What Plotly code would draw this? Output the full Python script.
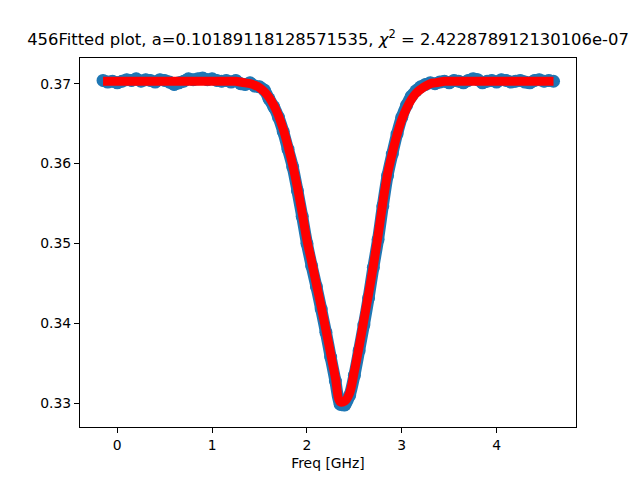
import plotly.graph_objects as go

freq_ghz = [
    -0.15, -0.10, -0.05, 0.00, 0.05, 0.10, 0.15, 0.20, 0.25, 0.30,
    0.35, 0.40, 0.45, 0.50, 0.55, 0.60, 0.65, 0.70, 0.75, 0.80,
    0.85, 0.90, 0.95, 1.00, 1.05, 1.10, 1.15, 1.20, 1.25, 1.30,
    1.35, 1.40, 1.45, 1.50, 1.55, 1.60, 1.65, 1.70, 1.75, 1.80,
    1.85, 1.90, 1.95, 2.00, 2.05, 2.10, 2.15, 2.20, 2.25, 2.30,
    2.35, 2.40, 2.45, 2.50, 2.55, 2.60, 2.65, 2.70, 2.75, 2.80,
    2.85, 2.90, 2.95, 3.00, 3.05, 3.10, 3.15, 3.20, 3.25, 3.30,
    3.35, 3.40, 3.45, 3.50, 3.55, 3.60, 3.65, 3.70, 3.75, 3.80,
    3.85, 3.90, 3.95, 4.00, 4.05, 4.10, 4.15, 4.20, 4.25, 4.30,
    4.35, 4.40, 4.45, 4.50, 4.55, 4.60,
]

measured = [
    0.3704, 0.3702, 0.3703, 0.3701, 0.3703, 0.3705, 0.3704, 0.3706, 0.3703, 0.3705,
    0.3704, 0.3702, 0.3705, 0.3704, 0.3702, 0.3699, 0.3701, 0.3703, 0.3706, 0.3705,
    0.3706, 0.3707, 0.3705, 0.3706, 0.3704, 0.3703, 0.3704, 0.3702, 0.3704, 0.3700,
    0.3699, 0.3701, 0.3697, 0.3696, 0.3692, 0.3681, 0.3671, 0.3658, 0.3640, 0.3618,
    0.3596, 0.3566, 0.3534, 0.3500, 0.3472, 0.3446, 0.3418, 0.3389, 0.3358, 0.3328,
    0.3299, 0.3298, 0.3310, 0.3335, 0.3366, 0.3398, 0.3432, 0.3470, 0.3505, 0.3547,
    0.3585, 0.3612, 0.3637, 0.3658, 0.3673, 0.3684, 0.3691, 0.3696, 0.3699, 0.3701,
    0.3700, 0.3702, 0.3703, 0.3701, 0.3704, 0.3703, 0.3701, 0.3704, 0.3706, 0.3705,
    0.3701, 0.3703, 0.3704, 0.3702, 0.3705, 0.3704, 0.3702, 0.3703, 0.3704, 0.3702,
    0.3701, 0.3704, 0.3705, 0.3703, 0.3704, 0.3703,
]

fitted = [
    0.3703, 0.3703, 0.3703, 0.3703, 0.3703, 0.3703, 0.3703, 0.3703, 0.3703, 0.3703,
    0.3703, 0.3703, 0.3703, 0.3703, 0.3703, 0.3703, 0.3703, 0.3703, 0.3703, 0.3703,
    0.3703, 0.3703, 0.3703, 0.3703, 0.3703, 0.3703, 0.3703, 0.3703, 0.3703, 0.3702,
    0.3701, 0.3700, 0.3698, 0.3695, 0.3690, 0.3683, 0.3673, 0.3660, 0.3643, 0.3622,
    0.3598, 0.3570, 0.3538, 0.3504, 0.3477, 0.3449, 0.3421, 0.3392, 0.3362, 0.3332,
    0.3302, 0.3303, 0.3313, 0.3340, 0.3371, 0.3404, 0.3437, 0.3472, 0.3510, 0.3551,
    0.3587, 0.3613, 0.3636, 0.3655, 0.3669, 0.3680, 0.3688, 0.3693, 0.3697, 0.3700,
    0.3701, 0.3702, 0.3703, 0.3703, 0.3703, 0.3703, 0.3703, 0.3703, 0.3703, 0.3703,
    0.3703, 0.3703, 0.3703, 0.3703, 0.3703, 0.3703, 0.3703, 0.3703, 0.3703, 0.3703,
    0.3703, 0.3703, 0.3703, 0.3703, 0.3703, 0.3703,
]

x_ticks = [0, 1, 2, 3, 4]
y_ticks = [0.33, 0.34, 0.35, 0.36, 0.37]

title_text = ("456Fitted plot, a=0.10189118128571535, "
              "<i>χ</i><sup>2</sup> = 2.422878912130106e-07")

# page body has an 8 px margin, so the figure is 624x464 and offset by 8 px
fig_w, fig_h = 624, 464

fig = go.Figure()
fig.add_trace(go.Scatter(
    x=freq_ghz, y=measured, mode="lines+markers",
    line=dict(color="#1f77b4", width=12, shape="spline", smoothing=0.8),
    marker=dict(color="#1f77b4", size=13, line=dict(width=0)),
    showlegend=False,
))
fig.add_trace(go.Scatter(
    x=freq_ghz, y=fitted, mode="lines",
    line=dict(color="#ff0000", width=9, shape="spline", smoothing=0.9),
    showlegend=False,
))

axis_common = dict(
    showline=True, linecolor="black", linewidth=1.1, mirror=True,
    ticks="outside", ticklen=5, tickwidth=1.1, tickcolor="black",
    showgrid=False, zeroline=False,
    tickfont=dict(family="DejaVu Sans", size=13.9, color="black"),
)

fig.update_layout(
    width=fig_w, height=fig_h,
    margin=dict(l=72, r=56, t=50, b=45, autoexpand=False),
    paper_bgcolor="white", plot_bgcolor="white",
    title=dict(text=title_text, x=0.5, xref="paper", xanchor="center",
               y=1 - 31 / fig_h, yref="container", yanchor="middle",
               font=dict(family="DejaVu Sans", size=16.4, color="black")),
    xaxis=dict(range=[-0.393, 4.837], tickvals=x_ticks,
               ticktext=[str(v) for v in x_ticks],
               title=dict(text="Freq [GHz]", standoff=6,
                          font=dict(family="DejaVu Sans", size=13.9, color="black")),
               **axis_common),
    yaxis=dict(range=[0.32705, 0.37321], tickvals=y_ticks,
               ticktext=[f"{v:.2f}" for v in y_ticks],
               **axis_common),
)

fig.write_html("out.html")
